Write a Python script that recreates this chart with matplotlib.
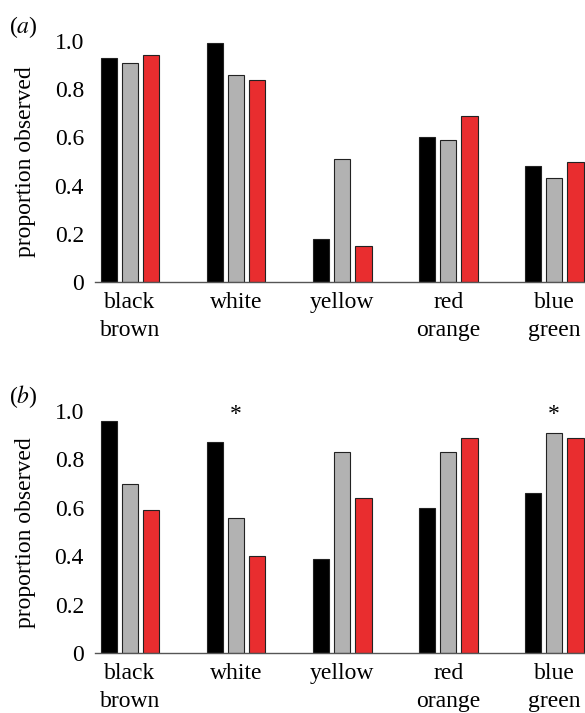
import matplotlib
matplotlib.use("Agg")
import matplotlib.pyplot as plt
from matplotlib import font_manager
import numpy as np

names = sorted({f.name for f in font_manager.fontManager.ttflist})
serif = "Liberation Serif" if "Liberation Serif" in names else "STIXGeneral"
plt.rcParams['font.family'] = [serif, 'DejaVu Serif']
plt.rcParams['mathtext.fontset'] = 'stix'

categories = ["black\nbrown", "white", "yellow", "red\norange", "blue\ngreen"]
a_black = [0.93, 0.99, 0.18, 0.60, 0.48]
a_gray = [0.91, 0.86, 0.51, 0.59, 0.43]
a_red = [0.94, 0.84, 0.15, 0.69, 0.50]
b_black = [0.96, 0.87, 0.39, 0.60, 0.66]
b_gray = [0.70, 0.56, 0.83, 0.83, 0.91]
b_red = [0.59, 0.40, 0.64, 0.89, 0.89]
b_signif = [False, True, False, False, True]
yticks = [0, 0.2, 0.4, 0.6, 0.8, 1.0]
yticklabels = ["0", "0.2", "0.4", "0.6", "0.8", "1.0"]

colors = ["#000000", "#b2b2b2", "#e92d2f"]

fig = plt.figure(figsize=(5.85, 7.13), dpi=100)
W, H = 585, 713

def make_ax(bottom_px, top_px):
    return fig.add_axes([95 / W, (H - bottom_px) / H, 490 / W, (bottom_px - top_px) / H])

axes = [make_ax(282, 41.0), make_ax(653.3, 411.0)]
data = [(a_black, a_gray, a_red), (b_black, b_gray, b_red)]
x = np.arange(len(categories))
width = 0.155
offset = 0.2
fs = 17

for k, (ax, series) in enumerate(zip(axes, data)):
    for j, vals in enumerate(series):
        ax.bar(x + (j - 1) * offset, vals, width=width, color=colors[j],
               edgecolor="#222222", linewidth=0.8, zorder=2)
    ax.set_xlim(-0.33, 4.29)
    ax.set_ylim(0, 1.0)
    for s in ["top", "left", "right"]:
        ax.spines[s].set_visible(False)
    ax.spines["bottom"].set_color("#555555")
    ax.spines["bottom"].set_linewidth(1.0)
    ax.set_yticks(yticks)
    ax.set_yticklabels(yticklabels, fontsize=fs)
    ax.set_xticks(x)
    ax.set_xticklabels(categories, fontsize=fs, linespacing=1.45)
    ax.tick_params(axis="x", length=0, pad=7)
    ax.tick_params(axis="y", length=0, pad=8)
    ax.set_ylabel("proportion observed", fontsize=fs, labelpad=13)

axes[0].text(-0.175, 1.06, "($\\mathit{a}$)", transform=axes[0].transAxes, fontsize=fs,
             ha="left", va="center")
axes[1].text(-0.175, 1.06, "($\\mathit{b}$)", transform=axes[1].transAxes, fontsize=fs,
             ha="left", va="center")

for i, s in enumerate(b_signif):
    if s:
        axes[1].text(x[i], 0.985, "*", ha="center", va="center", fontsize=fs, clip_on=False)

fig.savefig("out.png", dpi=100)
